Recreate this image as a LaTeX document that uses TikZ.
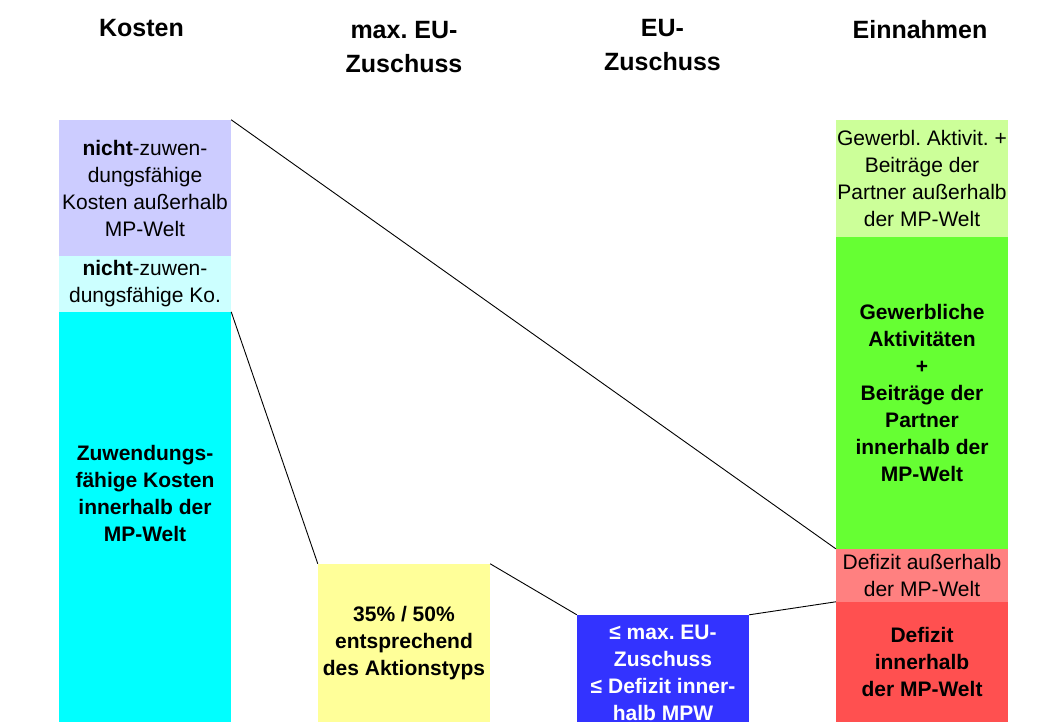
\documentclass[tikz,border=0pt]{standalone}
\usepackage{fontspec}
\setmainfont{Liberation Sans}
\frenchspacing

\definecolor{lavendel}{HTML}{CCCCFF}
\definecolor{hellcyan}{HTML}{CCFFFF}
\definecolor{cyanfeld}{HTML}{00FFFF}
\definecolor{gelbfeld}{HTML}{FFFF99}
\definecolor{blaufeld}{HTML}{3333FF}
\definecolor{hellgruen}{HTML}{CCFF99}
\definecolor{gruenfeld}{HTML}{66FF33}
\definecolor{rosafeld}{HTML}{FF8080}
\definecolor{rotfeld}{HTML}{FF5050}

\begin{document}
\begin{tikzpicture}[x=1pt,y=1pt]
\tikzstyle{every node}+=[inner sep=0pt, align=center, font=\fontsize{21}{27}\selectfont]
\tikzstyle{feld}=[minimum width=172pt]
\tikzstyle{kopf}=[font=\fontsize{25}{34}\selectfont\bfseries]
\useasboundingbox (0,0) rectangle (1038,-722);
% Spaltenkoepfe
\node [kopf] (kosten) at (141.5,-28) {Kosten};
\node [kopf] (maxeu) at (404,-47) {max. EU-\\Zuschuss};
\node [kopf] (eu) at (662.5,-45) {EU-\\Zuschuss};
\node [kopf] (einnahmen) at (920,-30) {Einnahmen};
% Kosten
\node [feld, fill=lavendel, minimum height=136pt] (ausserhalb) at (145,-188) {\textbf{nicht}-zuwen-\\dungsfähige\\Kosten außerhalb\\MP-Welt};
\node [feld, fill=hellcyan, minimum height=56pt] (nichtzuw) at (145,-284) {\textbf{nicht}-zuwen-\\dungsfähige Ko.};
\node [feld, fill=cyanfeld, minimum height=410pt] (zuw) at (145,-517) {};
\node [font=\fontsize{21}{27}\selectfont\bfseries] (zuwtext) at (145,-493) {Zuwendungs-\\fähige Kosten\\innerhalb der\\MP-Welt};
% max. EU-Zuschuss
\node [feld, fill=gelbfeld, minimum height=158pt, font=\fontsize{21}{27}\selectfont\bfseries] (satz) at (404,-643) {35\% / 50\%\\entsprechend\\des Aktionstyps};
% EU-Zuschuss
\node [feld, fill=blaufeld, minimum height=116pt, text=white, font=\fontsize{21}{27}\selectfont\bfseries] (zuschuss) at (663,-673) {≤ max. EU-\\Zuschuss\\≤ Defizit inner-\\halb MPW};
% Einnahmen
\node [feld, fill=hellgruen, minimum height=117pt] (gewaussen) at (922,-178.5) {Gewerbl. Aktivit. +\\Beiträge der\\Partner außerhalb\\der MP-Welt};
\node [feld, fill=gruenfeld, minimum height=312pt, font=\fontsize{21}{27}\selectfont\bfseries] (gewinnen) at (922,-393) {Gewerbliche\\Aktivitäten\\+\\Beiträge der\\Partner\\innerhalb der\\MP-Welt};
\node [feld, fill=rosafeld, minimum height=53pt] (defaussen) at (922,-575.5) {Defizit außerhalb\\der MP-Welt};
\node [feld, fill=rotfeld, minimum height=120pt, font=\fontsize{21}{27}\selectfont\bfseries] (definnen) at (922,-662) {Defizit\\innerhalb\\der MP-Welt};
% Verbindungslinien
\draw [black, line width=0.9pt] (ausserhalb.north east) -- (defaussen.north west);
\draw [black, line width=0.9pt] (zuw.north east) -- (satz.north west);
\draw [black, line width=0.9pt] (satz.north east) -- (zuschuss.north west);
\draw [black, line width=0.9pt] (zuschuss.north east) -- (definnen.north west);
\end{tikzpicture}
\end{document}
